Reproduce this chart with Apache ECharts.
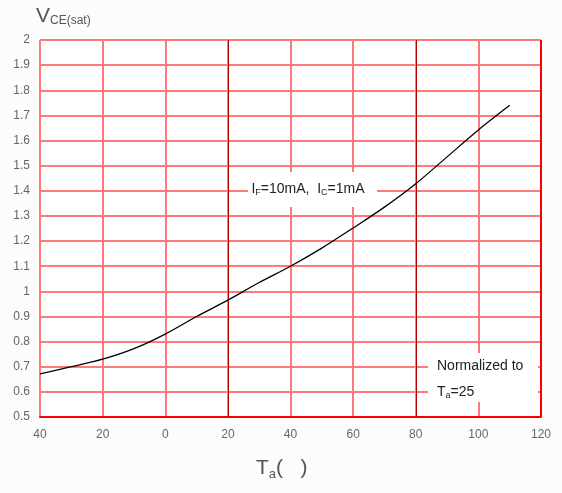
<!DOCTYPE html>
<html><head><meta charset="utf-8">
<script src="https://cdn.jsdelivr.net/npm/echarts@6/dist/echarts.min.js"></script>
<style>html,body{margin:0;padding:0;background:#fcfcfc}#c{width:562px;height:493px}</style>
</head><body><div id="c"></div>
<script>
var temps = [-40, -30, -20, -10, 0, 10, 20, 30, 40, 50, 60, 70, 80, 90, 100, 110];
var vce = [0.672, 0.700, 0.730, 0.772, 0.830, 0.900, 0.965, 1.035, 1.100, 1.172, 1.252, 1.335, 1.428, 1.535, 1.642, 1.740];
var xTickLabels = {'-40':'40','-20':'20','0':'0','20':'20','40':'40','60':'60','80':'80','100':'100','120':'120'};
var darkLinesX = [20, 80];
var FONT = "'Liberation Sans', Arial, sans-serif";

var chart = echarts.init(document.getElementById('c'), null, {renderer:'canvas'});
chart.setOption({
  backgroundColor: '#fcfcfc',
  animation: false,
  grid: {left: 40, top: 40, width: 501, height: 377, show: true, backgroundColor: '#ffffff', borderWidth: 0},
  xAxis: {
    type: 'value', min: -40, max: 120, interval: 20,
    axisLine: {show: true, lineStyle: {color: '#ff0000', width: 2}},
    axisTick: {show: false},
    axisLabel: {color: '#666', fontSize: 12, fontFamily: FONT, margin: 12,
      formatter: function(v){ return xTickLabels[String(v)]; }},
    splitLine: {show: true, lineStyle: {color: '#ff7b7b', width: 2}}
  },
  yAxis: {
    type: 'value', min: 0.5, max: 2, interval: 0.1,
    axisLine: {show: false},
    axisTick: {show: false},
    axisLabel: {color: '#666', fontSize: 12, fontFamily: FONT, margin: 10,
      formatter: function(v){ return String(Math.round(v*10)/10); }},
    splitLine: {show: true, lineStyle: {color: '#ff7b7b', width: 2}}
  },
  series: [{
    type: 'line',
    data: temps.map(function(t,i){ return [t, vce[i]]; }),
    smooth: 0.3, showSymbol: false,
    lineStyle: {color: '#000', width: 1.3},
    markLine: {
      silent: true, symbol: 'none', label: {show: false},
      data: darkLinesX.map(function(x){ return {xAxis: x, lineStyle: {color: '#b00000', width: 1, type: 'solid'}}; })
        .concat([{xAxis: 120, lineStyle: {color: '#ff0000', width: 2, type: 'solid'}}])
    },
    z: 5
  }],
  graphic: [
    {type: 'rect', shape: {x: 248, y: 172, width: 129, height: 35}, style: {fill: '#ffffff'}, z: 10},
    {type: 'text', x: 308, y: 189, z: 11, style: {
      text: '{n|I}{s|F}{n|=10mA,  I}{s|C}{n|=1mA}', align: 'center', verticalAlign: 'middle',
      rich: {n: {fontSize: 14, fill: '#222', fontFamily: FONT}, s: {fontSize: 9, fill: '#222', fontFamily: FONT, padding: [8,0,0,0]}}
    }},
    {type: 'rect', shape: {x: 428, y: 353, width: 110, height: 49}, style: {fill: '#ffffff'}, z: 10},
    {type: 'text', x: 437, y: 366, z: 11, style: {
      text: 'Normalized to', align: 'left', verticalAlign: 'middle', fontSize: 14, fill: '#222', fontFamily: FONT
    }},
    {type: 'text', x: 437, y: 392, z: 11, style: {
      text: '{n|T}{s|a}{n|=25}', align: 'left', verticalAlign: 'middle',
      rich: {n: {fontSize: 14, fill: '#222', fontFamily: FONT}, s: {fontSize: 9, fill: '#222', fontFamily: FONT, padding: [8,0,0,0]}}
    }},
    {type: 'text', x: 36, y: 16, z: 11, style: {
      text: '{n|V}{s|CE(sat)}', align: 'left', verticalAlign: 'middle',
      rich: {n: {fontSize: 21, fill: '#555', fontFamily: FONT}, s: {fontSize: 12, fill: '#555', fontFamily: FONT, padding: [10,0,0,0]}}
    }},
    {type: 'text', x: 256, y: 468, z: 11, style: {
      text: '{n|T}{s|a}{n|(   )}', align: 'left', verticalAlign: 'middle',
      rich: {n: {fontSize: 21, fill: '#555', fontFamily: FONT}, s: {fontSize: 13, fill: '#555', fontFamily: FONT, padding: [12,0,0,0]}}
    }}
  ]
});
</script></body></html>
